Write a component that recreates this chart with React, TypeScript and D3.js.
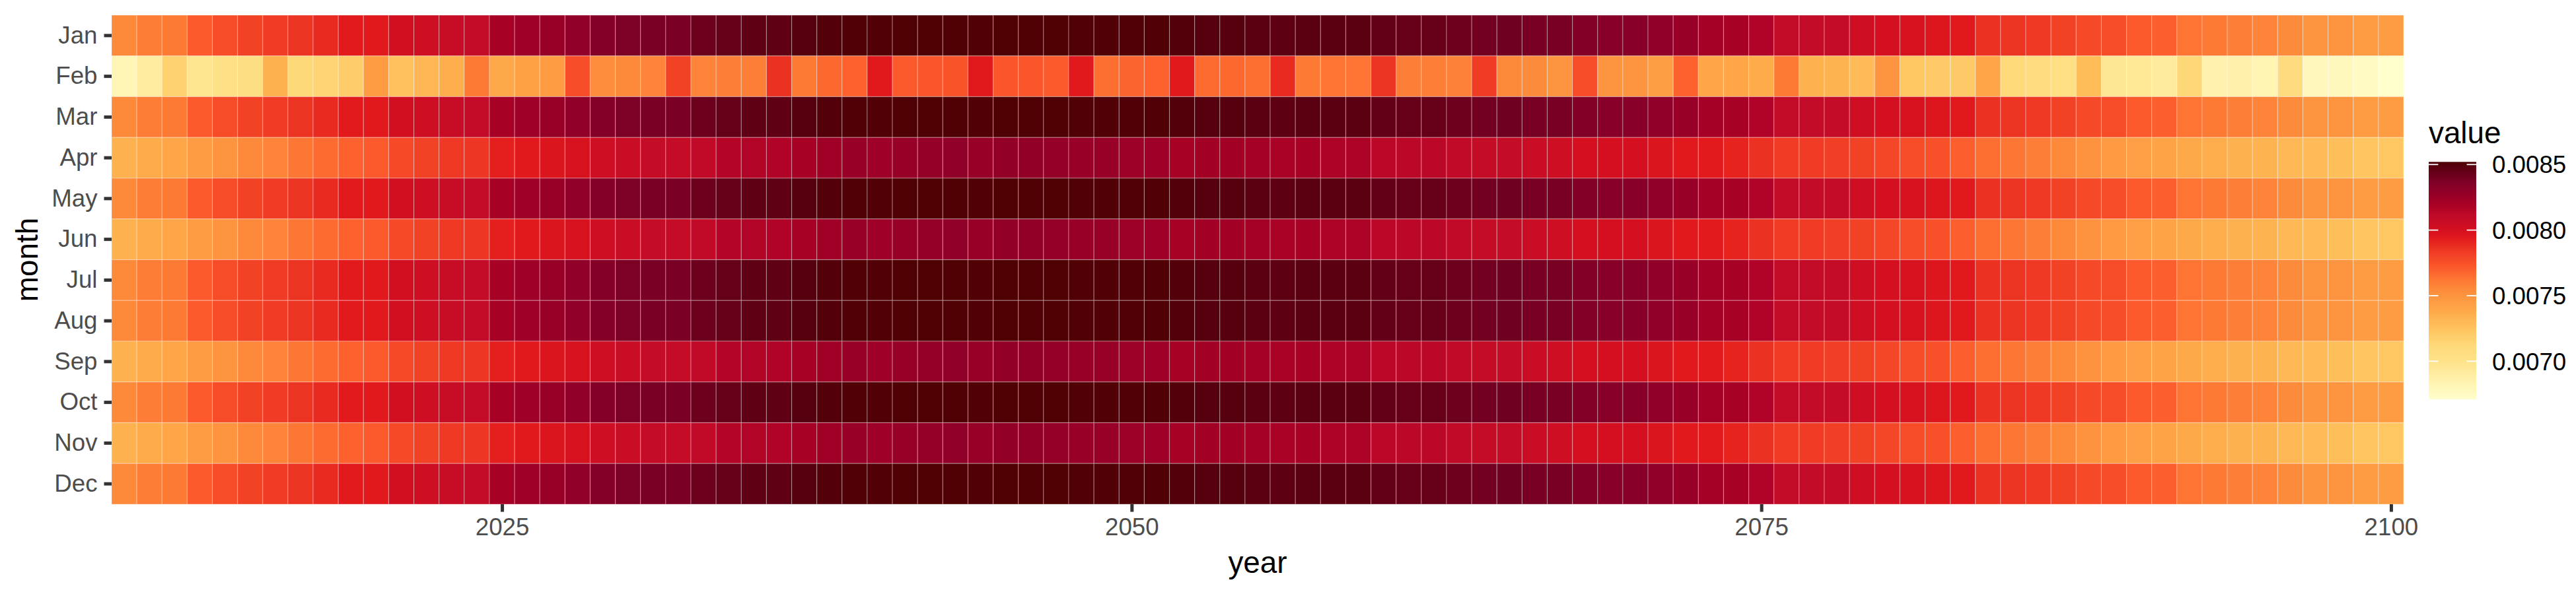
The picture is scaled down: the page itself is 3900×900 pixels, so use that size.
import { useEffect, useRef } from 'react';
import * as d3 from 'd3';

const years = d3.range(2010, 2101);
const months = ['Jan', 'Feb', 'Mar', 'Apr', 'May', 'Jun', 'Jul', 'Aug', 'Sep', 'Oct', 'Nov', 'Dec'];

// 31-day months (Jan, Mar, May, Jul, Aug, Oct, Dec) share the same row colours
const long31 = [
  0.00755, 0.00760, 0.00761, 0.00771, 0.00777, 0.00781, 0.00783, 0.00786, 0.00789, 0.00793,
  0.00794, 0.00801, 0.00804, 0.00807, 0.00809, 0.00820, 0.00824, 0.00827, 0.00830, 0.00834,
  0.00837, 0.00838, 0.00838, 0.00842, 0.00844, 0.00846, 0.00846, 0.00849, 0.00850, 0.00851,
  0.00851, 0.00852, 0.00852, 0.00852, 0.00851, 0.00852, 0.00852, 0.00852, 0.00851, 0.00851,
  0.00851, 0.00851, 0.00850, 0.00849, 0.00849, 0.00848, 0.00847, 0.00848, 0.00848, 0.00848,
  0.00845, 0.00844, 0.00844, 0.00842, 0.00840, 0.00841, 0.00839, 0.00839, 0.00835, 0.00833,
  0.00833, 0.00830, 0.00826, 0.00821, 0.00820, 0.00817, 0.00810, 0.00810, 0.00808, 0.00804,
  0.00800, 0.00799, 0.00796, 0.00794, 0.00787, 0.00786, 0.00784, 0.00781, 0.00778, 0.00777,
  0.00771, 0.00770, 0.00763, 0.00761, 0.00759, 0.00757, 0.00754, 0.00750, 0.00750, 0.00746,
  0.00746,
];

// 30-day months (Apr, Jun, Sep, Nov)
const short30 = [
  0.00734, 0.00737, 0.00740, 0.00746, 0.00750, 0.00755, 0.00757, 0.00762, 0.00766, 0.00769,
  0.00771, 0.00778, 0.00781, 0.00784, 0.00785, 0.00792, 0.00794, 0.00797, 0.00799, 0.00804,
  0.00806, 0.00808, 0.00808, 0.00811, 0.00815, 0.00816, 0.00817, 0.00820, 0.00823, 0.00826,
  0.00824, 0.00827, 0.00828, 0.00830, 0.00827, 0.00829, 0.00829, 0.00828, 0.00826, 0.00826,
  0.00825, 0.00824, 0.00820, 0.00822, 0.00822, 0.00821, 0.00819, 0.00820, 0.00818, 0.00818,
  0.00813, 0.00813, 0.00813, 0.00811, 0.00808, 0.00808, 0.00806, 0.00804, 0.00800, 0.00800,
  0.00800, 0.00797, 0.00794, 0.00793, 0.00791, 0.00787, 0.00783, 0.00783, 0.00782, 0.00781,
  0.00779, 0.00777, 0.00775, 0.00770, 0.00765, 0.00762, 0.00759, 0.00755, 0.00751, 0.00747,
  0.00744, 0.00741, 0.00738, 0.00736, 0.00734, 0.00733, 0.00730, 0.00729, 0.00727, 0.00724,
  0.00723,
];

// February (leap years stand out)
const feb = [
  0.00682, 0.00691, 0.00716, 0.00698, 0.00703, 0.00706, 0.00734, 0.00712, 0.00715, 0.00719,
  0.00746, 0.00726, 0.00731, 0.00735, 0.00761, 0.00738, 0.00743, 0.00746, 0.00776, 0.00753,
  0.00755, 0.00757, 0.00781, 0.00757, 0.00759, 0.00759, 0.00787, 0.00761, 0.00767, 0.00769,
  0.00794, 0.00771, 0.00773, 0.00774, 0.00794, 0.00773, 0.00773, 0.00771, 0.00794, 0.00765,
  0.00768, 0.00769, 0.00794, 0.00766, 0.00767, 0.00765, 0.00789, 0.00761, 0.00763, 0.00763,
  0.00786, 0.00759, 0.00759, 0.00758, 0.00783, 0.00755, 0.00754, 0.00750, 0.00777, 0.00750,
  0.00750, 0.00745, 0.00769, 0.00740, 0.00740, 0.00737, 0.00761, 0.00734, 0.00733, 0.00729,
  0.00750, 0.00723, 0.00721, 0.00721, 0.00740, 0.00711, 0.00708, 0.00705, 0.00728, 0.00696,
  0.00695, 0.00692, 0.00713, 0.00685, 0.00686, 0.00683, 0.00709, 0.00679, 0.00678, 0.00675,
  0.00671,
];

const monthRows: Record<string, number[]> = {
  Jan: long31, Feb: feb, Mar: long31, Apr: short30, May: long31, Jun: short30,
  Jul: long31, Aug: long31, Sep: short30, Oct: long31, Nov: short30, Dec: long31,
};

const xTicks = [2025, 2050, 2075, 2100];
const legendTicks = [0.007, 0.0075, 0.008, 0.0085];

// colour ramp sampled from the legend bar
const rampValues = [0.006706, 0.00687, 0.007, 0.00712, 0.00724, 0.00737, 0.0075, 0.00761, 0.00771,
  0.00783, 0.00793, 0.008, 0.00811, 0.00821, 0.0083, 0.00838, 0.008522];
const rampColors = ['#ffffcc', '#fff0aa', '#fee38a', '#fed97a', '#fec560', '#feab4a', '#fd9540', '#fd7a35',
  '#fc5a2c', '#f03c25', '#e31a1c', '#d41020', '#c00a28', '#a50026', '#900028', '#7a0025', '#4d0002'];

const FONT = '"Liberation Sans", Arial, Helvetica, sans-serif';

export default function App() {
  const svgRef = useRef<SVGSVGElement>(null);
  const width = 3900;
  const height = 900;

  useEffect(() => {
    if (!svgRef.current) return;
    const svg = d3.select(svgRef.current);
    svg.selectAll('*').remove();

    const panel = { left: 169, right: 3639, top: 23, bottom: 764 };

    const cells = months.flatMap(m => years.map((yr, i) => ({ month: m, year: yr, value: monthRows[m][i] })));
    const lo = d3.min(cells, d => d.value)!;
    const hi = d3.max(cells, d => d.value)!;

    const xScale = d3.scaleLinear().domain([2009.5, 2100.5]).range([panel.left, panel.right]);
    const yScale = d3.scaleBand<string>().domain(months).range([panel.top, panel.bottom]);
    const color = d3.scaleLinear<string>().domain(rampValues).range(rampColors)
      .interpolate(d3.interpolateLab).clamp(true);

    // Tiles
    svg.append('g')
      .selectAll('rect')
      .data(cells)
      .join('rect')
      .attr('x', d => xScale(d.year - 0.5))
      .attr('y', d => yScale(d.month)!)
      .attr('width', d => xScale(d.year + 0.5) - xScale(d.year - 0.5))
      .attr('height', yScale.bandwidth())
      .attr('fill', d => color(d.value))
      .attr('stroke', '#ffffff')
      .attr('stroke-opacity', 0.3)
      .attr('stroke-width', 1.2);

    // Axes
    const xAxis = svg.append('g')
      .attr('transform', `translate(0,${panel.bottom})`)
      .call(d3.axisBottom(xScale).tickValues(xTicks).tickFormat(d3.format('d')).tickSize(11.5).tickPadding(9))
      .call(sel => sel.select('.domain').remove());
    xAxis.selectAll('.tick line').attr('stroke', '#333333').attr('stroke-width', 5);
    xAxis.selectAll('.tick text')
      .attr('fill', '#4d4d4d').attr('font-size', 36.7).attr('font-family', FONT)
      .attr('dy', null).attr('y', 47);

    const yAxis = svg.append('g')
      .attr('transform', `translate(${panel.left},0)`)
      .call(d3.axisLeft(yScale).tickSize(11.5).tickPadding(10))
      .call(sel => sel.select('.domain').remove());
    yAxis.selectAll('.tick line').attr('stroke', '#333333').attr('stroke-width', 5);
    yAxis.selectAll('.tick text')
      .attr('fill', '#4d4d4d').attr('font-size', 36.7).attr('font-family', FONT);

    // Axis titles
    svg.append('text')
      .attr('x', (panel.left + panel.right) / 2)
      .attr('y', 868)
      .attr('text-anchor', 'middle')
      .attr('font-size', 45.8)
      .attr('font-family', FONT)
      .attr('fill', '#000000')
      .text('year');

    svg.append('text')
      .attr('transform', `translate(57,${(panel.top + panel.bottom) / 2}) rotate(-90)`)
      .attr('text-anchor', 'middle')
      .attr('font-size', 45.8)
      .attr('font-family', FONT)
      .attr('fill', '#000000')
      .text('month');

    // Legend
    const bar = { x: 3677, w: 72, top: 245.3, bottom: 605 };
    const legendScale = d3.scaleLinear().domain([lo, hi]).range([bar.bottom, bar.top]);

    const grad = svg.append('defs').append('linearGradient')
      .attr('id', 'fillGrad')
      .attr('x1', 0).attr('y1', 1).attr('x2', 0).attr('y2', 0);
    d3.range(0, 1.0001, 0.02).forEach(t => {
      grad.append('stop')
        .attr('offset', t)
        .attr('stop-color', color(lo + t * (hi - lo)));
    });

    svg.append('text')
      .attr('x', bar.x)
      .attr('y', 217)
      .attr('font-size', 45.8)
      .attr('font-family', FONT)
      .attr('fill', '#000000')
      .text('value');

    svg.append('rect')
      .attr('x', bar.x)
      .attr('y', bar.top)
      .attr('width', bar.w)
      .attr('height', bar.bottom - bar.top)
      .attr('fill', 'url(#fillGrad)');

    const lg = svg.append('g');
    legendTicks.forEach(v => {
      const y = legendScale(v);
      lg.append('line')
        .attr('x1', bar.x).attr('x2', bar.x + 14.4).attr('y1', y).attr('y2', y)
        .attr('stroke', '#ffffff').attr('stroke-width', 1.8);
      lg.append('line')
        .attr('x1', bar.x + bar.w - 14.4).attr('x2', bar.x + bar.w).attr('y1', y).attr('y2', y)
        .attr('stroke', '#ffffff').attr('stroke-width', 1.8);
      lg.append('text')
        .attr('x', 3773)
        .attr('y', y)
        .attr('dy', '0.36em')
        .attr('font-size', 36.7)
        .attr('font-family', FONT)
        .attr('fill', '#000000')
        .text(d3.format('.4f')(v));
    });
  }, []);

  return (
    <svg
      ref={svgRef}
      width={width}
      height={height}
      style={{ position: 'absolute', left: 0, top: 0, background: '#ffffff' }}
    />
  );
}
